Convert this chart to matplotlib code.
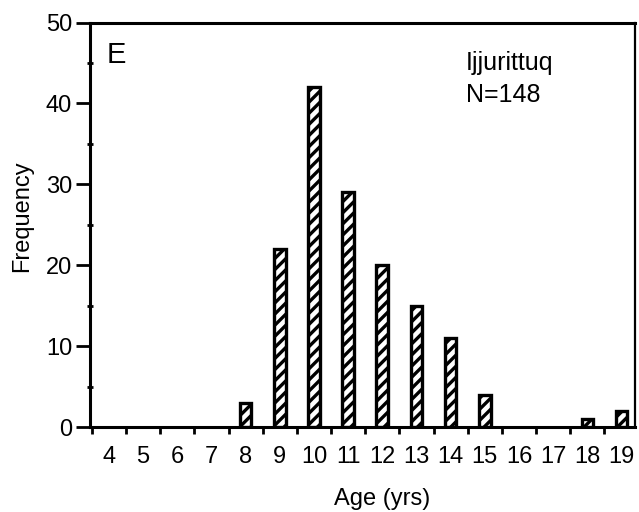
import matplotlib.pyplot as plt
from matplotlib.ticker import FixedLocator, MultipleLocator

plt.rcParams['font.family'] = ['Liberation Sans', 'DejaVu Sans']
plt.rcParams['hatch.linewidth'] = 2.4

# age frequency, Ijjurittuq sample
ages = [4, 5, 6, 7, 8, 9, 10, 11, 12, 13, 14, 15, 16, 17, 18, 19]
counts = [0, 0, 0, 0, 3, 22, 42, 29, 20, 15, 11, 4, 0, 0, 1, 2]
site = "Ijjurittuq"
n_total = 148

fig = plt.figure(figsize=(6.39, 5.12), dpi=100)
ax = fig.add_axes([0.141, 0.166, 0.853, 0.79])

# empty age classes get no bar outline
filled = [(a, c) for a, c in zip(ages, counts) if c > 0]
ax.bar([a for a, c in filled], [c for a, c in filled], width=0.34,
       color="white", edgecolor="black", linewidth=2.4, hatch="///")

ax.set_xlim(3.45, 19.4)
ax.set_ylim(0, 50)

# integer labels sit between the bin ticks
ax.xaxis.set_major_locator(FixedLocator(ages))
ax.xaxis.set_minor_locator(FixedLocator([a - 0.5 for a in ages]))
ax.tick_params(axis="x", which="major", length=0, pad=14, labelsize=17)
ax.tick_params(axis="x", which="minor", length=5, width=2, direction="out")
ax.yaxis.set_major_locator(MultipleLocator(10))
ax.yaxis.set_minor_locator(MultipleLocator(5))
ax.tick_params(axis="y", which="major", length=10, width=2, labelsize=17, pad=3)
ax.tick_params(axis="y", which="minor", length=5, width=2, direction="inout")

for s in ax.spines.values():
    s.set_linewidth(2.2)
ax.spines["right"].set_linewidth(1.6)

ax.set_xlabel("Age (yrs)", fontsize=17)
ax.xaxis.set_label_coords(0.535, -0.15)
ax.set_ylabel("Frequency", fontsize=17)
ax.yaxis.set_label_coords(-0.105, 0.52)

ax.text(0.03, 0.955, "E", transform=ax.transAxes, fontsize=21,
        va="top", ha="left")
ax.text(0.69, 0.93, site + "\nN=" + str(n_total), transform=ax.transAxes,
        fontsize=18, va="top", ha="left", linespacing=1.45)

fig.savefig("out.png", dpi=100)
